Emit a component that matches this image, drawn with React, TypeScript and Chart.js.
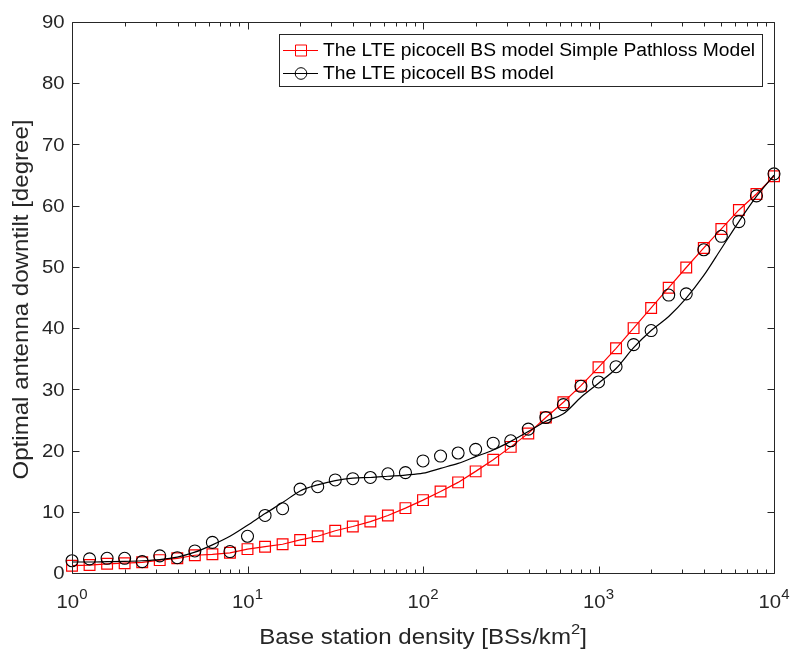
import React, { useEffect, useRef } from 'react';
import { Chart, registerables } from 'chart.js';

Chart.register(...registerables);

// Base station density [BSs/km^2] (log-spaced samples)
const densities = [1, 1.259, 1.585, 1.995, 2.512, 3.162, 3.981, 5.012, 6.31, 7.943, 10, 12.59, 15.85, 19.95, 25.12, 31.62, 39.81, 50.12, 63.1, 79.43, 100, 125.9, 158.5, 199.5, 251.2, 316.2, 398.1, 501.2, 631, 794.3, 1000, 1259, 1585, 1995, 2512, 3162, 3981, 5012, 6310, 7943, 10000];

// Optimal antenna downtilt [degree]
const pathlossDowntilt = [1.2, 1.3, 1.5, 1.6, 1.75, 2.1, 2.4, 2.9, 3.05, 3.3, 3.9, 4.3, 4.7, 5.4, 6.0, 6.9, 7.6, 8.4, 9.4, 10.6, 11.9, 13.3, 14.8, 16.6, 18.5, 20.6, 22.8, 25.4, 27.9, 30.6, 33.6, 36.7, 40.0, 43.3, 46.6, 49.9, 53.1, 56.2, 59.3, 61.9, 64.8];
const modelDowntilt = [2.0, 2.3, 2.4, 2.4, 1.85, 2.8, 2.5, 3.6, 5.0, 3.5, 6.0, 9.4, 10.5, 13.7, 14.1, 15.2, 15.4, 15.6, 16.2, 16.4, 18.3, 19.1, 19.6, 20.2, 21.2, 21.6, 23.5, 25.4, 27.5, 30.5, 31.2, 33.7, 37.3, 39.6, 45.4, 45.6, 52.8, 55.0, 57.4, 61.6, 65.2];
const modelFit = [1.8, 1.8, 1.85, 1.9, 2.0, 2.2, 2.6, 3.4, 4.6, 6.0, 7.8, 9.7, 11.5, 13.4, 14.4, 15.1, 15.5, 15.6, 15.8, 16.0, 16.3, 17.1, 17.9, 19.0, 20.1, 21.5, 23.1, 24.8, 26.0, 28.7, 31.0, 33.4, 36.8, 39.6, 41.9, 44.9, 48.6, 53.0, 57.4, 61.5, 65.0];

const seriesLabels = ['The LTE picocell BS model Simple Pathloss Model', 'The LTE picocell BS model'];

const yTicks = [0, 10, 20, 30, 40, 50, 60, 70, 80, 90];
const xDecades = [1, 10, 100, 1000, 10000];
const xExponents = ['0', '1', '2', '3', '4'];
const xMinorMultipliers = [2, 3, 4, 5, 6, 7, 8, 9];

const xTitle = 'Base station density [BSs/km';
const xTitleSup = '2';
const xTitleEnd = ']';
const yTitle = 'Optimal antenna downtilt [degree]';

const AXIS = '#262626';
const FONT = '"Liberation Sans", Arial, Helvetica, sans-serif';
const STRETCH = 1.07;

const pts = (ys: number[]) => densities.map((d, i) => ({ x: d, y: ys[i] }));

function setFont(ctx: any, size: number) {
  ctx.font = `${size}px ${FONT}`;
}
function textW(ctx: any, s: string, size: number) {
  setFont(ctx, size);
  return ctx.measureText(s).width * STRETCH;
}
function drawText(ctx: any, s: string, x: number, y: number, size: number, align: string, baseline: string) {
  ctx.save();
  setFont(ctx, size);
  ctx.textAlign = align;
  ctx.textBaseline = baseline;
  ctx.translate(x, y);
  ctx.scale(STRETCH, 1);
  ctx.fillText(s, 0, 0);
  ctx.restore();
}

const framePlugin = {
  id: 'frame',
  afterDatasetsDraw(chart: any) {
    const { ctx, chartArea: a, scales } = chart;
    const xs = scales.x;
    const ys = scales.y;
    const L = Math.round(a.left) + 0.5;
    const R = Math.round(a.right) + 0.5;
    const T = Math.round(a.top) + 0.5;
    const B = Math.round(a.bottom) + 0.5;
    ctx.save();
    ctx.strokeStyle = AXIS;
    ctx.lineWidth = 1;
    ctx.beginPath();
    ctx.rect(L, T, R - L, B - T);
    for (const v of yTicks) {
      const py = Math.round(ys.getPixelForValue(v)) + 0.5;
      ctx.moveTo(L, py); ctx.lineTo(L + 7, py);
      ctx.moveTo(R, py); ctx.lineTo(R - 7, py);
    }
    for (const v of xDecades) {
      const px = Math.round(xs.getPixelForValue(v)) + 0.5;
      ctx.moveTo(px, B); ctx.lineTo(px, B - 7);
      ctx.moveTo(px, T); ctx.lineTo(px, T + 7);
    }
    for (let i = 0; i < xDecades.length - 1; i++) {
      for (const m of xMinorMultipliers) {
        const px = Math.round(xs.getPixelForValue(xDecades[i] * m)) + 0.5;
        ctx.moveTo(px, B); ctx.lineTo(px, B - 4);
        ctx.moveTo(px, T); ctx.lineTo(px, T + 4);
      }
    }
    ctx.stroke();

    ctx.fillStyle = AXIS;
    for (const v of yTicks) {
      drawText(ctx, String(v), L - 8, ys.getPixelForValue(v) + 1, 19, 'right', 'middle');
    }
    xDecades.forEach((v, i) => {
      const px = xs.getPixelForValue(v);
      const wb = textW(ctx, '10', 19);
      const ws = textW(ctx, xExponents[i], 14);
      const x0 = px - (wb + ws) / 2;
      drawText(ctx, '10', x0, 608, 19, 'left', 'alphabetic');
      drawText(ctx, xExponents[i], x0 + wb, 599, 14, 'left', 'alphabetic');
    });
    const TS = 22.5;
    const w1 = textW(ctx, xTitle, TS);
    const w2 = textW(ctx, xTitleSup, 15.5);
    const w3 = textW(ctx, xTitleEnd, TS);
    const cx = (a.left + a.right) / 2;
    const sx = cx - (w1 + w2 + w3) / 2;
    drawText(ctx, xTitle, sx, 644, TS, 'left', 'alphabetic');
    drawText(ctx, xTitleSup, sx + w1, 634, 15.5, 'left', 'alphabetic');
    drawText(ctx, xTitleEnd, sx + w1 + w2, 644, TS, 'left', 'alphabetic');
    ctx.save();
    ctx.translate(22, (a.top + a.bottom) / 2 + 2);
    ctx.rotate(-Math.PI / 2);
    drawText(ctx, yTitle, 0, 0, TS, 'center', 'middle');
    ctx.restore();
    ctx.restore();
  },
  afterDraw(chart: any) {
    const { ctx } = chart;
    const ds = chart.data.datasets;
    ctx.save();
    ctx.fillStyle = '#ffffff';
    ctx.strokeStyle = AXIS;
    ctx.lineWidth = 1;
    ctx.fillRect(279.5, 34.5, 483, 52);
    ctx.strokeRect(279.5, 34.5, 483, 52);
    const rows = [ds[0], ds[1]];
    const rowY = [50, 73];
    rows.forEach((d: any, i: number) => {
      const y = rowY[i] + 0.5;
      ctx.strokeStyle = d.pointBorderColor;
      ctx.lineWidth = 1;
      ctx.beginPath();
      ctx.moveTo(283, y); ctx.lineTo(318, y);
      ctx.stroke();
      ctx.beginPath();
      if (d.pointStyle === 'rect') {
        ctx.rect(295.5, y - 5.5, 11, 11);
      } else {
        ctx.arc(301, y, 5.8, 0, Math.PI * 2);
      }
      ctx.stroke();
      ctx.fillStyle = '#000000';
      drawText(ctx, d.label, 323, y + 1, 18, 'left', 'middle');
    });
    ctx.restore();
  },
};

export default function App() {
  const ref = useRef<HTMLCanvasElement>(null);
  useEffect(() => {
    const chart = new Chart(ref.current as HTMLCanvasElement, {
      type: 'line',
      data: {
        datasets: [
          {
            label: seriesLabels[0],
            data: pts(pathlossDowntilt),
            borderColor: '#ff0000',
            borderWidth: 1.2,
            pointStyle: 'rect',
            pointRadius: 7.6,
            pointBorderColor: '#ff0000',
            pointBackgroundColor: 'rgba(0,0,0,0)',
            pointBorderWidth: 1.2,
            tension: 0,
            clip: false,
            order: 2,
          } as any,
          {
            label: seriesLabels[1],
            data: pts(modelDowntilt),
            showLine: false,
            borderColor: '#000000',
            pointStyle: 'circle',
            pointRadius: 6,
            pointBorderColor: '#000000',
            pointBackgroundColor: 'rgba(0,0,0,0)',
            pointBorderWidth: 1.1,
            clip: false,
            order: 1,
          } as any,
          {
            label: '',
            data: pts(modelFit),
            borderColor: '#000000',
            borderWidth: 1.2,
            pointRadius: 0,
            cubicInterpolationMode: 'monotone',
            clip: false,
            order: 0,
          } as any,
        ],
      },
      options: {
        responsive: false,
        animation: false,
        devicePixelRatio: 1,
        layout: { padding: { left: 72, top: 22, right: 20, bottom: 78 } },
        plugins: { legend: { display: false }, tooltip: { enabled: false } },
        scales: {
          x: { type: 'logarithmic', min: 1, max: 10000, display: false },
          y: { type: 'linear', min: 0, max: 90, display: false },
        },
      },
      plugins: [framePlugin],
    } as any);
    return () => chart.destroy();
  }, []);
  return (
    <div style={{ position: 'absolute', left: 0, top: 0, width: 794, height: 651, background: '#ffffff' }}>
      <canvas ref={ref} width={794} height={651} style={{ display: 'block' }} />
    </div>
  );
}
